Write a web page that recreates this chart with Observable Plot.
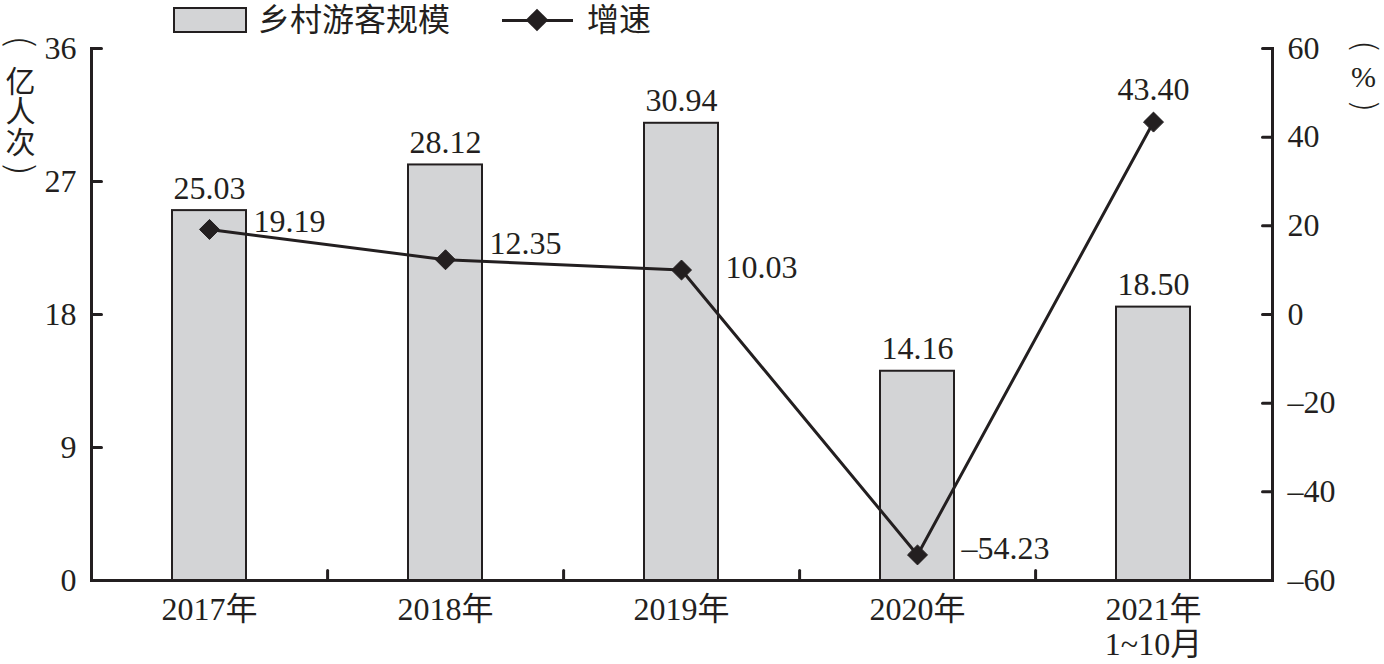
<!DOCTYPE html>
<html>
<head>
<meta charset="utf-8">
<script src="https://cdn.jsdelivr.net/npm/d3@7"></script>
<script src="https://cdn.jsdelivr.net/npm/@observablehq/plot@0.6"></script>
<style>
  body { margin: 0; background: #fff; }
  #wrap { width: 1384px; }
  #legend { position: relative; height: 40px; font-family: 'Liberation Serif', 'Noto Sans CJK SC', serif; font-size: 32px; color: #231f20; }
  #legend .sw { position: absolute; left: 173px; top: 7px; width: 70px; height: 22px; background: #d3d4d6; border: 2px solid #231f20; }
  #legend .t1 { position: absolute; left: 258px; top: 0px; line-height: 40px; }
  #legend .ln { position: absolute; left: 502px; top: 19px; width: 71px; height: 3px; background: #231f20; }
  #legend .dm { position: absolute; left: 529px; top: 12px; width: 16px; height: 16px; background: #231f20; transform: rotate(45deg); }
  #legend .t2 { position: absolute; left: 587px; top: 0px; line-height: 40px; }
</style>
</head>
<body>
<div id="wrap">
  <div id="legend">
    <div class="sw"></div><div class="t1">乡村游客规模</div>
    <div class="ln"></div><div class="dm"></div><div class="t2">增速</div>
  </div>
  <div id="chart"></div>
</div>
<script>
const categories = ["2017年", "2018年", "2019年", "2020年", "2021年\n1~10月"];
const tourists = [25.03, 28.12, 30.94, 14.16, 18.50];
const growth = [19.19, 12.35, 10.03, -54.23, 43.40];
const leftTicks = [0, 9, 18, 27, 36];
const rightTicks = [-60, -40, -20, 0, 20, 40, 60];
const leftUnit = ["亿", "人", "次"];
const rightUnit = ["%"];

const ink = "#231f20";
const fmtSigned = (v, digits) => (v < 0 ? "–" : "") + Math.abs(v).toFixed(digits);
// right axis (-60..60) mapped onto left axis (0..36)
const toLeft = g => (g + 60) * 36 / 120;
const fromLeft = y => Math.round(y * 120 / 36 - 60);

const rows = categories.map((c, i) => ({cat: c, v: tourists[i], g: growth[i], gy: toLeft(growth[i])}));

const W = 1384, H = 624, mL = 91, mR = 112, mT = 8, mB = 84;
const step = (W - mL - mR) / categories.length;

const shapeRight = {draw(ctx, l) { ctx.moveTo(0, 0); ctx.lineTo(l, 0); }};
const shapeLeft = {draw(ctx, l) { ctx.moveTo(0, 0); ctx.lineTo(-l, 0); }};
const shapeUp = {draw(ctx, l) { ctx.moveTo(0, 0); ctx.lineTo(0, -l); }};

const ptLabel = (i, opts) => Plot.text(rows, {
  filter: (d, j) => j === i, x: "cat", y: "gy", text: d => fmtSigned(d.g, 2),
  fontSize: 32, fill: ink, ...opts
});

const unitText = (t, anchor, dx, dy, extra = {}) => Plot.text([t], {
  frameAnchor: anchor, textAnchor: "middle", lineAnchor: "middle", dx, dy,
  fontSize: 30, fill: ink, ...extra
});
const paren = {rotate: 90, fontSize: 38, fontFamily: "'DejaVu Sans'", fontWeight: 200};
const parenR = {...paren, fontSize: 34};

const chart = Plot.plot({
  width: W, height: H,
  marginTop: mT, marginBottom: mB, marginLeft: mL, marginRight: mR,
  style: {fontFamily: "'Liberation Serif', 'Noto Sans CJK SC', serif", fontSize: "32px", color: ink, background: "#fff", overflow: "visible"},
  x: {domain: categories, paddingInner: 0.685, paddingOuter: 0.3425},
  y: {domain: [0, 36]},
  marks: [
    Plot.barY(rows, {x: "cat", y: "v", fill: "#d3d4d6", stroke: ink, strokeWidth: 2}),
    Plot.frame({anchor: "left", stroke: ink, strokeWidth: 3}),
    Plot.frame({anchor: "right", stroke: ink, strokeWidth: 3}),
    Plot.frame({anchor: "bottom", stroke: ink, strokeWidth: 3}),
    Plot.vector(leftTicks, {y: d => d, frameAnchor: "left", length: 10, anchor: "start", shape: shapeRight, stroke: ink, strokeWidth: 3}),
    Plot.vector(rightTicks, {y: d => toLeft(d), frameAnchor: "right", length: 10, anchor: "start", shape: shapeLeft, stroke: ink, strokeWidth: 3}),
    Plot.vector(categories.slice(0, -1), {x: d => d, frameAnchor: "bottom", dx: step / 2, length: 10, anchor: "start", shape: shapeUp, stroke: ink, strokeWidth: 3}),
    Plot.axisY({ticks: leftTicks, anchor: "left", tickSize: 0, tickPadding: 15, tickFormat: d => String(d), label: null, fontSize: 32, fill: ink}),
    Plot.axisY({ticks: rightTicks.map(toLeft), anchor: "right", tickSize: 0, tickPadding: 15, tickFormat: d => fmtSigned(fromLeft(d), 0), label: null, fontSize: 32, fill: ink}),
    Plot.axisX({anchor: "bottom", tickSize: 0, tickPadding: 14, label: null, fontSize: 32, lineHeight: 1.1, fill: ink}),
    Plot.text(rows, {x: "cat", y: "v", text: d => d.v.toFixed(2), lineAnchor: "bottom", dy: -12, fontSize: 32, fill: ink}),
    Plot.line(rows, {x: "cat", y: "gy", stroke: ink, strokeWidth: 3}),
    Plot.dot(rows, {x: "cat", y: "gy", symbol: "diamond2", r: 9, fill: ink, stroke: ink, strokeWidth: 1}),
    ptLabel(0, {textAnchor: "start", dx: 44, dy: -8}),
    ptLabel(1, {textAnchor: "start", dx: 44, dy: -16}),
    ptLabel(2, {textAnchor: "start", dx: 44, dy: -2}),
    ptLabel(3, {textAnchor: "start", dx: 44, dy: -6}),
    ptLabel(4, {textAnchor: "middle", lineAnchor: "bottom", dy: -22}),
    // left unit label (亿人次), written vertically
    unitText("(", "top-left", -71, -6, paren),
    unitText(leftUnit[0], "top-left", -71, 34),
    unitText(leftUnit[1], "top-left", -71, 64),
    unitText(leftUnit[2], "top-left", -71, 95),
    unitText(")", "top-left", -71, 120, paren),
    // right unit label (%), written vertically
    unitText("(", "top-right", 91, -2, parenR),
    unitText(rightUnit[0], "top-right", 91, 29, {fontFamily: "'Liberation Serif'"}),
    unitText(")", "top-right", 91, 57, parenR)
  ]
});
document.getElementById("chart").appendChild(chart);
</script>
</body>
</html>
